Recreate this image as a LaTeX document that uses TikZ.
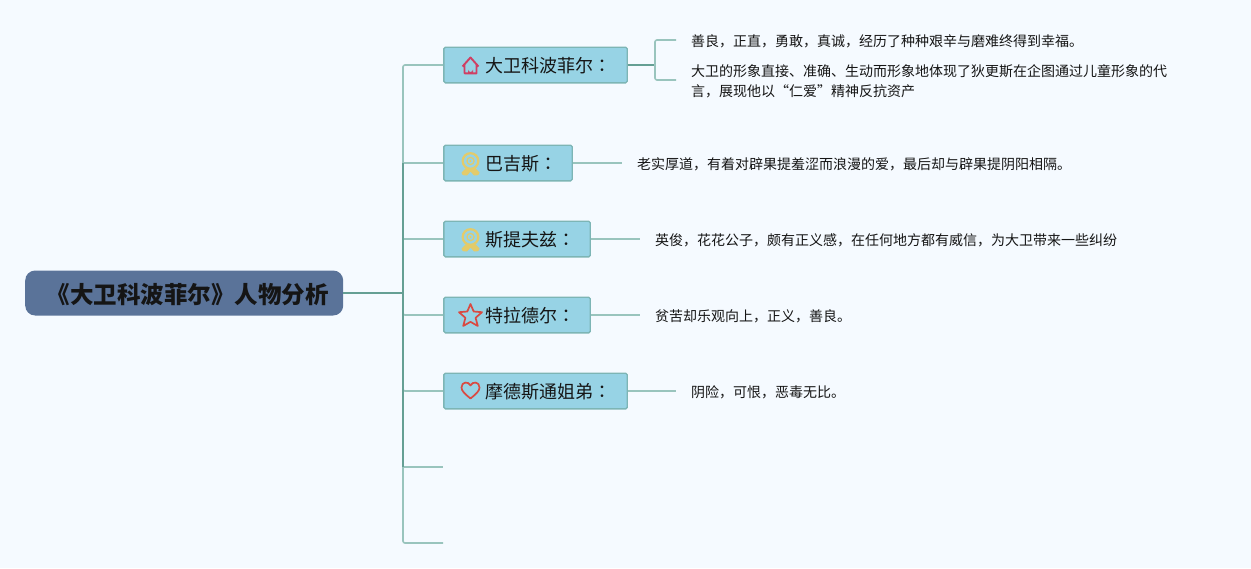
\documentclass[tikz,border=0pt]{standalone}
\usepackage{fontspec}
\setmainfont{Noto Sans CJK SC}
\newfontfamily\tcfont{Noto Sans CJK TC}
\definecolor{pagebg}{HTML}{F5FAFF}
\definecolor{rootfill}{HTML}{5A7399}
\definecolor{boxfill}{HTML}{97D3E5}
\definecolor{boxline}{HTML}{7DB5B5}
\definecolor{linkdark}{HTML}{659F94}
\definecolor{linklight}{HTML}{99C4BD}
\definecolor{inktext}{HTML}{151515}
\definecolor{medal}{HTML}{E3CB6A}
\definecolor{iconred}{HTML}{D94A42}
\definecolor{iconpink}{HTML}{CF3F63}
\newcommand{\cl}{{\tcfont ：}}
\newcommand{\topictext}[2]{\makebox[#1pt][l]{\hspace{41.8pt}\raisebox{-7.3pt}[8pt][8pt]{#2\cl}}}
\tikzset{
  x=1pt,y=-1pt,
  rootbox/.style={draw=none,fill=rootfill,rounded corners=10pt,minimum height=45pt,inner xsep=0pt,inner ysep=0pt,anchor=west,font=\fontsize{23.5}{26}\selectfont\bfseries,text=inktext},
  topicbox/.style={draw=boxline,line width=1.4pt,fill=boxfill,rounded corners=1.5pt,minimum height=35.6pt,inner xsep=0pt,inner ysep=0pt,anchor=west,font=\fontsize{18}{20}\selectfont,text=inktext},
  detail/.style={anchor=west,inner sep=0pt,font=\fontsize{14}{20}\selectfont,text=inktext,align=left},
  linkmain/.style={draw=linkdark,line width=1.6pt},
  linksub/.style={draw=linklight,line width=1.6pt,rounded corners=2pt},
}
\newcommand{\medalicon}[2]{%
  \begin{scope}[shift={(#1,#2)}]
    \fill[medal] (-3.5,3) -- (-9,8.5) .. controls (-9,11.5) and (-5,12) .. (-3.5,11.5) -- (0,7.5) -- (3.5,11.5) .. controls (5,12) and (9,11.5) .. (9,8.5) -- (3.5,3) -- cycle;
    \draw[medal,line width=2.2pt,fill=boxfill] (0,-3) circle[radius=7.8];
    \draw[medal,line width=1.2pt] (0,-3) circle[radius=3.6];
    \fill[medal] (0,-3) circle[radius=1.2];
  \end{scope}}
\begin{document}
\begin{tikzpicture}
\useasboundingbox[fill=pagebg] (0,0) rectangle (1251,568);

\node[rootbox] (root) at (25,293) {\makebox[318pt][l]{\hspace{21.5pt}\raisebox{-10.2pt}[10pt][10pt]{《大卫科波菲尔》人物分析}}};
\coordinate (hub) at (403,293);
\coordinate (end6) at (443,467);
\coordinate (end7) at (443,543);

\node[topicbox] (t1) at (443.2,65) {\topictext{183.3}{大卫科波菲尔}};
\node[topicbox] (t2) at (443.2,163) {\topictext{128.3}{巴吉斯}};
\node[topicbox] (t3) at (443.2,239) {\topictext{146.3}{斯提夫兹}};
\node[topicbox] (t4) at (443.2,315) {\topictext{146.3}{特拉德尔}};
\node[topicbox] (t5) at (443.2,391) {\topictext{183.3}{摩德斯通姐弟}};

\node[detail] (d1) at (691,41.5) {善良，正直，勇敢，真诚，经历了种种艰辛与磨难终得到幸福。};
\node[detail] (d2) at (691,81) {大卫的形象直接、准确、生动而形象地体现了狄更斯在企图通过儿童形象的代\\言，展现他以“仁爱”精神反抗资产};
\node[detail] (d3) at (637,164) {老实厚道，有着对辟果提羞涩而浪漫的爱，最后却与辟果提阴阳相隔。};
\node[detail] (d4) at (655,240) {英俊，花花公子，颇有正义感，在任何地方都有威信，为大卫带来一些纠纷};
\node[detail] (d5) at (655,316) {贫苦却乐观向上，正义，善良。};
\node[detail] (d6) at (691,392) {阴险，可恨，恶毒无比。};

% trunk and branches
\draw[linksub] (403,163) -- (403,65) -- (t1.west);
\draw[linksub] (403,467) -- (403,543) -- (end7);
\draw[linksub] (403,163) -- (t2.west);
\draw[linksub] (403,239) -- (t3.west);
\draw[linksub] (hub) |- (t4.west);
\draw[linksub] (hub) |- (t5.west);
\draw[linksub] (403,467) -- (end6);
\draw[linkmain] (403,163) -- (403,467);
\draw[linkmain] (root.east) -- (hub);

% sub-branches
\draw[linkmain] (t1.east) -- (655,65);
\draw[linksub] (676,40) -- (655,40) -- (655,80) -- (676,80);
\draw[linksub] (t2.east) -- (622,163);
\draw[linksub] (t3.east) -- (640,239);
\draw[linksub] (t4.east) -- (640,315);
\draw[linksub] (t5.east) -- (676,391);

% icons
\draw[iconpink,line width=1.9pt,line join=round] (462.5,66.5) -- (470.5,57.5) -- (478.5,66.5) (464.5,65) -- (464.5,73.3) -- (476.5,73.3) -- (476.5,65);
\fill[iconpink] (468,73.5) -- (468,69.5) arc[start angle=180,end angle=0,radius=2.5] -- (473,73.5) -- cycle;
\medalicon{470.5}{164}
\medalicon{470.5}{240}
\draw[iconred,line width=1.7pt,line join=round] (470.5,304) -- (473.7,311.5) -- (482,312.2) -- (475.6,317.8) -- (477.8,326) -- (470.5,321.8) -- (463.2,326) -- (465.4,317.8) -- (459,312.2) -- (467.3,311.5) -- cycle;
\draw[iconred,line width=1.7pt,line join=round] (470.5,398.5) .. controls (465,394) and (461.5,391) .. (461.5,387.5) .. controls (461.5,381.5) and (468.5,381) .. (470.5,385.5) .. controls (472.5,381) and (479.5,381.5) .. (479.5,387.5) .. controls (479.5,391) and (476,394) .. (470.5,398.5) -- cycle;
\end{tikzpicture}
\end{document}
